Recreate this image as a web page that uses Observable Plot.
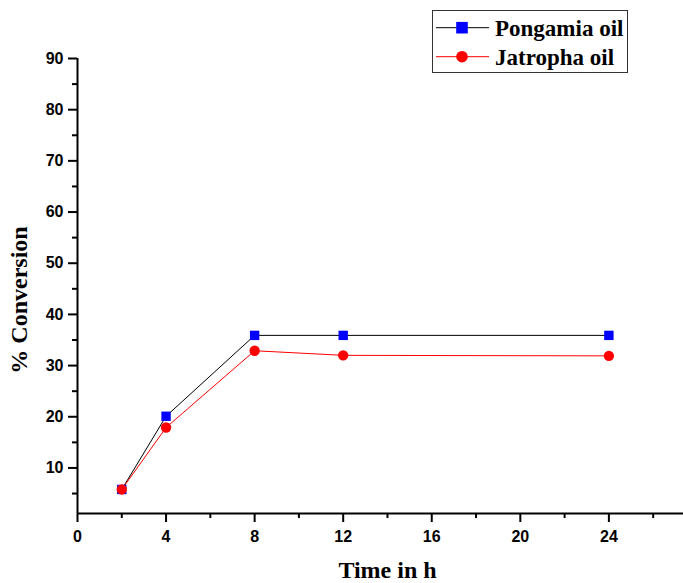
<!DOCTYPE html>
<html><head><meta charset="utf-8">
<script src="https://cdn.jsdelivr.net/npm/d3@7"></script>
<script src="https://cdn.jsdelivr.net/npm/@observablehq/plot@0.6"></script>
<style>
body{margin:0;background:#fff}
#wrap{position:relative;width:683px;height:583px}
#legend{position:absolute;left:432px;top:10px}
</style>
</head><body>
<div id="wrap"><div id="chart"></div><div id="legend"></div></div>
<script>
const hours = [2, 4, 8, 12, 24];
const pongamia = [5.8, 20.1, 35.9, 35.9, 35.9];
const jatropha = [5.8, 17.9, 32.9, 32.0, 31.9];
const seriesNames = ["Pongamia oil", "Jatropha oil"];
const seriesColors = ["#0000ff", "#ff0000"];
const lineColors = ["#000000", "#ff0000"];
const xMajor = [0, 4, 8, 12, 16, 20, 24];
const xMinor = [2, 6, 10, 14, 18, 22, 26];
const yMajor = [10, 20, 30, 40, 50, 60, 70, 80, 90];
const yMinor = [5, 15, 25, 35, 45, 55, 65, 75, 85];

const pData = hours.map((h, i) => ({h, v: pongamia[i]}));
const jData = hours.map((h, i) => ({h, v: jatropha[i]}));

const tickFont = {fontSize: 16, fontWeight: "bold", fontFamily: "'Liberation Sans', Arial, sans-serif", stroke: "#000", strokeWidth: 2};
const titleFont = {fontSize: 24, fontWeight: "bold", fontFamily: "'Liberation Serif', 'Times New Roman', serif", fill: "#000"};

const chart = Plot.plot({
  width: 683, height: 583,
  marginLeft: 77, marginRight: 0, marginTop: 58, marginBottom: 70,
  x: {domain: [0, 27.37]},
  y: {domain: [1.1, 90]},
  style: {background: "#fff", color: "#000"},
  marks: [
    Plot.axisY({ticks: yMajor, tickSize: 9, tickPadding: 5, label: null, ...tickFont}),
    Plot.axisY({ticks: yMinor, tickSize: 5, tickFormat: () => "", label: null, stroke: "#000", strokeWidth: 2}),
    Plot.axisX({ticks: xMajor, tickSize: 9, tickPadding: 8, label: null, ...tickFont}),
    Plot.axisX({ticks: xMinor, tickSize: 5, tickFormat: () => "", label: null, stroke: "#000", strokeWidth: 2}),
    Plot.ruleX([0], {stroke: "#000", strokeWidth: 2}),
    Plot.ruleY([1.1], {stroke: "#000", strokeWidth: 2}),
    Plot.line(pData, {x: "h", y: "v", stroke: lineColors[0], strokeWidth: 1}),
    Plot.line(jData, {x: "h", y: "v", stroke: lineColors[1], strokeWidth: 1}),
    Plot.dot(pData, {x: "h", y: "v", symbol: "square", r: 5.3, fill: seriesColors[0], stroke: "none"}),
    Plot.dot(jData, {x: "h", y: "v", symbol: "circle", r: 5.2, fill: seriesColors[1], stroke: "none"}),
    Plot.text(["% Conversion"], {frameAnchor: "left", textAnchor: "middle", lineAnchor: "middle", dx: -58, dy: 14, rotate: -90, ...titleFont}),
    Plot.text(["Time in h"], {frameAnchor: "bottom", textAnchor: "middle", lineAnchor: "middle", dy: 57, dx: 7, ...titleFont})
  ]
});
document.getElementById("chart").appendChild(chart);

// legend
const lg = d3.select("#legend").append("svg").attr("width", 197).attr("height", 64);
lg.append("rect").attr("x", 0.5).attr("y", 0.5).attr("width", 195).attr("height", 62)
  .attr("fill", "#fff").attr("stroke", "#333").attr("stroke-width", 1);
seriesNames.forEach((name, i) => {
  const cy = 17.7 + 29 * i;
  const g = lg.append("g");
  g.append("line").attr("x1", 4).attr("x2", 57).attr("y1", cy).attr("y2", cy)
    .attr("stroke", lineColors[i]).attr("stroke-width", 1);
  if (i === 0) {
    g.append("rect").attr("x", 30 - 5.8).attr("y", cy - 5.8).attr("width", 11.6).attr("height", 11.6).attr("fill", seriesColors[i]);
  } else {
    g.append("circle").attr("cx", 30).attr("cy", cy).attr("r", 5.8).attr("fill", seriesColors[i]);
  }
  g.append("text").attr("x", 63).attr("y", cy + 8).text(name)
    .attr("font-family", "'Liberation Serif', 'Times New Roman', serif")
    .attr("font-weight", "bold").attr("font-size", 23).attr("fill", "#000");
});
</script>
</body></html>
